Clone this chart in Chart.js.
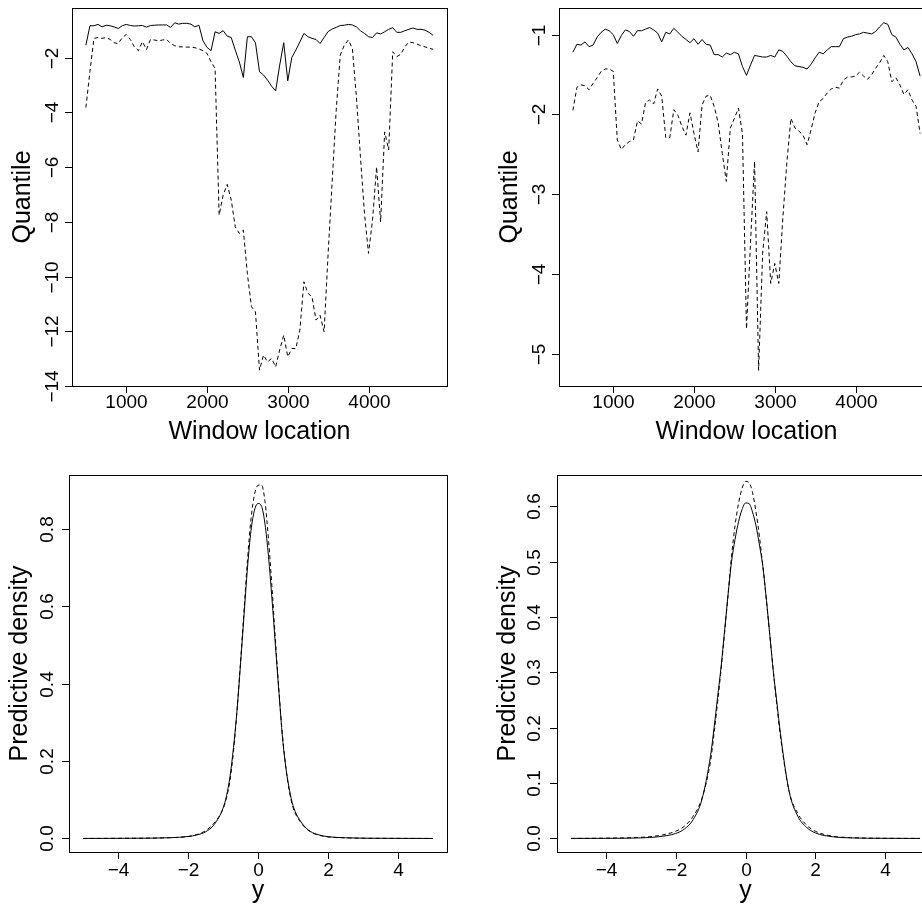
<!DOCTYPE html>
<html>
<head>
<meta charset="utf-8">
<script src="https://cdn.jsdelivr.net/npm/chart.js@4.4.0/dist/chart.umd.min.js"></script>
<style>
  html, body { margin: 0; padding: 0; background: #fff; overflow: hidden; }
  #wrap { position: relative; width: 922px; height: 905px; overflow: hidden; }
  canvas { position: absolute; }
</style>
</head>
<body>
<div id="wrap">
  <canvas id="c1"></canvas>
  <canvas id="c2"></canvas>
  <canvas id="c3"></canvas>
  <canvas id="c4"></canvas>
</div>
<script>
// window locations (x of the two top panels)
const windowLoc = [
  500, 550, 600, 650, 700, 750, 800, 850, 900, 950,
  1000, 1050, 1100, 1150, 1200, 1250, 1300, 1350, 1400, 1450,
  1500, 1550, 1600, 1650, 1700, 1750, 1800, 1850, 1900, 1950,
  2000, 2050, 2100, 2150, 2200, 2250, 2300, 2350, 2400, 2450,
  2500, 2550, 2600, 2650, 2700, 2750, 2800, 2850, 2900, 2950,
  3000, 3050, 3100, 3150, 3200, 3250, 3300, 3350, 3400, 3450,
  3500, 3550, 3600, 3650, 3700, 3750, 3800, 3850, 3900, 3950,
  4000, 4050, 4100, 4150, 4200, 4250, 4300, 4350, 4400, 4450,
  4500, 4550, 4600, 4650, 4700, 4750, 4800
];

// top left panel
const q1Solid = [
  -1.54, -0.83, -0.83, -0.78, -0.87, -0.81, -0.83, -0.87, -0.93, -0.83,
  -0.78, -0.82, -0.84, -0.83, -0.82, -0.88, -0.82, -0.81, -0.80, -0.80,
  -0.80, -0.89, -0.72, -0.77, -0.74, -0.74, -0.77, -0.87, -0.81, -1.38,
  -1.62, -1.74, -1.05, -1.11, -1.01, -1.21, -1.26, -1.72, -2.15, -2.72,
  -1.23, -1.23, -1.45, -2.51, -2.63, -2.82, -3.04, -3.21, -2.27, -1.45,
  -2.84, -1.99, -1.72, -1.42, -1.11, -1.23, -1.29, -1.33, -1.48, -1.26,
  -1.04, -0.95, -0.89, -0.82, -0.81, -0.78, -0.80, -0.87, -1.01, -1.11,
  -1.23, -1.26, -1.09, -1.13, -1.05, -0.96, -0.90, -1.07, -1.07, -1.01,
  -0.96, -0.91, -0.96, -0.96, -0.99, -1.07, -1.18
];
const q1Dashed = [
  -3.82, -2.50, -1.29, -1.26, -1.29, -1.26, -1.33, -1.45, -1.48, -1.27,
  -1.15, -1.33, -1.60, -1.74, -1.41, -1.70, -1.33, -1.35, -1.38, -1.35,
  -1.33, -1.48, -1.56, -1.60, -1.60, -1.61, -1.61, -1.63, -1.68, -1.74,
  -1.84, -2.15, -2.39, -7.75, -7.02, -6.63, -7.20, -8.18, -8.42, -8.30,
  -9.90, -11.10, -11.29, -13.42, -12.87, -13.12, -12.99, -13.30, -12.68, -12.14,
  -12.93, -12.63, -12.63, -11.96, -10.19, -10.61, -10.74, -11.59, -11.41, -12.02,
  -9.15, -6.53, -3.91, -1.90, -1.54, -1.35, -1.66, -3.43, -5.62, -7.69,
  -9.15, -7.93, -5.99, -8.00, -4.71, -5.37, -1.78, -1.96, -1.87, -1.60,
  -1.42, -1.45, -1.50, -1.56, -1.60, -1.65, -1.69
];

// top right panel
const q2Solid = [
  -1.22, -1.12, -1.13, -1.09, -1.15, -1.13, -1.03, -0.97, -0.93, -0.95,
  -1.00, -1.11, -1.01, -0.94, -0.96, -1.02, -0.95, -0.95, -0.93, -0.91,
  -0.94, -0.98, -1.09, -0.97, -0.99, -0.92, -0.97, -1.02, -1.06, -1.10,
  -1.05, -1.12, -1.06, -1.12, -1.13, -1.25, -1.25, -1.28, -1.23, -1.25,
  -1.22, -1.24, -1.40, -1.51, -1.38, -1.26, -1.27, -1.28, -1.28, -1.26,
  -1.28, -1.19, -1.21, -1.27, -1.34, -1.39, -1.40, -1.41, -1.43, -1.37,
  -1.29, -1.22, -1.24, -1.19, -1.15, -1.15, -1.15, -1.05, -1.03, -1.02,
  -1.00, -0.99, -0.97, -0.98, -0.99, -0.96, -0.90, -0.85, -0.87, -1.00,
  -1.03, -1.12, -1.19, -1.16, -1.24, -1.34, -1.52
];
const q2Dashed = [
  -1.95, -1.66, -1.63, -1.64, -1.69, -1.61, -1.54, -1.46, -1.43, -1.43,
  -1.46, -2.32, -2.44, -2.38, -2.34, -2.32, -2.08, -2.12, -1.85, -1.82,
  -1.87, -1.68, -1.77, -2.29, -2.29, -1.94, -2.01, -2.15, -2.26, -1.98,
  -2.24, -2.47, -1.88, -1.77, -1.76, -1.90, -2.11, -2.49, -2.84, -2.17,
  -2.05, -1.92, -2.24, -4.69, -3.60, -2.59, -5.21, -3.74, -3.22, -4.12,
  -3.87, -4.12, -3.30, -2.60, -2.05, -2.17, -2.21, -2.26, -2.38, -2.19,
  -1.98, -1.84, -1.80, -1.73, -1.68, -1.66, -1.67, -1.57, -1.53, -1.53,
  -1.52, -1.47, -1.52, -1.56, -1.50, -1.42, -1.35, -1.26, -1.34, -1.59,
  -1.54, -1.63, -1.75, -1.69, -1.82, -1.90, -2.24
];

// predictive densities (bottom panels)
const yGrid = [
  -5, -4, -3, -2.5, -2, -1.75, -1.5, -1.25, -1, -0.9,
  -0.8, -0.7, -0.6, -0.5, -0.4, -0.3, -0.2, -0.1, 0, 0.1,
  0.2, 0.3, 0.4, 0.5, 0.6, 0.7, 0.8, 0.9, 1, 1.25,
  1.5, 1.75, 2, 2.5, 3, 4, 5
];
const dens1Solid = [
  0, 0.0003, 0.0008, 0.002, 0.005, 0.009, 0.017, 0.036, 0.078, 0.11,
  0.16, 0.235, 0.33, 0.45, 0.575, 0.70, 0.795, 0.848, 0.865, 0.858,
  0.812, 0.728, 0.618, 0.495, 0.375, 0.26, 0.18, 0.125, 0.085, 0.04,
  0.018, 0.009, 0.0045, 0.0018, 0.0007, 0.0002, 0
];
const dens1Dashed = [
  0, 0.0003, 0.001, 0.002, 0.005, 0.01, 0.02, 0.04, 0.076, 0.105,
  0.15, 0.225, 0.33, 0.455, 0.588, 0.72, 0.825, 0.888, 0.912, 0.913,
  0.87, 0.772, 0.648, 0.51, 0.38, 0.265, 0.18, 0.12, 0.08, 0.038,
  0.017, 0.008, 0.004, 0.0015, 0.0006, 0.0002, 0
];
const dens2Solid = [
  0, 0.0002, 0.001, 0.003, 0.009, 0.017, 0.034, 0.07, 0.15, 0.20,
  0.255, 0.31, 0.375, 0.44, 0.50, 0.54, 0.572, 0.594, 0.606, 0.605,
  0.59, 0.565, 0.53, 0.49, 0.43, 0.365, 0.30, 0.245, 0.19, 0.085,
  0.04, 0.02, 0.01, 0.003, 0.001, 0.0002, 0
];
const dens2Dashed = [
  0, 0.0005, 0.002, 0.005, 0.013, 0.022, 0.04, 0.072, 0.14, 0.19,
  0.245, 0.305, 0.37, 0.44, 0.51, 0.565, 0.605, 0.632, 0.645, 0.643,
  0.625, 0.59, 0.545, 0.49, 0.43, 0.365, 0.30, 0.24, 0.185, 0.085,
  0.045, 0.024, 0.013, 0.004, 0.0015, 0.0003, 0
];

// tick values
const locTicks = [1000, 2000, 3000, 4000];
const q1Ticks = [-14, -12, -10, -8, -6, -4, -2];
const q2Ticks = [-5, -4, -3, -2, -1];
const yTicks = [-4, -2, 0, 2, 4];
const dens1Ticks = [0, 0.2, 0.4, 0.6, 0.8];
const dens2Ticks = [0, 0.1, 0.2, 0.3, 0.4, 0.5, 0.6];

const FONT = '"Liberation Sans", Arial, Helvetica, sans-serif';
const minus = (v) => String(v).replace('-', '\u2212');
const oneDec = (v) => v.toFixed(1);

const panels = [
  {
    id: 'c1', left: 0, top: 0, width: 461, height: 452,
    pad: { left: 72, top: 8, right: 14, bottom: 66 },
    xs: windowLoc, solid: q1Solid, dashed: q1Dashed, smooth: false,
    xMin: 328, xMax: 4972, yMin: -14, yMax: -0.18,
    xTicks: locTicks, yTicks: q1Ticks, xFmt: String, yFmt: minus,
    xTitle: 'Window location', yTitle: 'Quantile',
    xLabOff: 21.5, xTitleOff: 53, yLabOff: 14, yTitleOff: 42,
  },
  {
    id: 'c2', left: 461, top: 0, width: 480, height: 452,
    pad: { left: 98, top: 8, right: 7, bottom: 66 },
    xs: windowLoc, solid: q2Solid, dashed: q2Dashed, smooth: false,
    xMin: 328, xMax: 4972, yMin: -5.407, yMax: -0.665,
    xTicks: locTicks, yTicks: q2Ticks, xFmt: String, yFmt: minus,
    xTitle: 'Window location', yTitle: 'Quantile',
    xLabOff: 21.5, xTitleOff: 53, yLabOff: 14, yTitleOff: 42,
  },
  {
    id: 'c3', left: 0, top: 452, width: 461, height: 453,
    pad: { left: 69, top: 23, right: 14, bottom: 53 },
    xs: yGrid, solid: dens1Solid, dashed: dens1Dashed, smooth: true,
    xMin: -5.4, xMax: 5.4, yMin: -0.035, yMax: 0.9386,
    xTicks: yTicks, yTicks: dens1Ticks, xFmt: minus, yFmt: oneDec,
    xTitle: 'y', yTitle: 'Predictive density',
    xLabOff: 24, xTitleOff: 46, yLabOff: 16, yTitleOff: 42,
  },
  {
    id: 'c4', left: 461, top: 452, width: 480, height: 453,
    pad: { left: 96, top: 23, right: 7, bottom: 53 },
    xs: yGrid, solid: dens2Solid, dashed: dens2Dashed, smooth: true,
    xMin: -5.4, xMax: 5.4, yMin: -0.0245, yMax: 0.6565,
    xTicks: yTicks, yTicks: dens2Ticks, xFmt: minus, yFmt: oneDec,
    xTitle: 'y', yTitle: 'Predictive density',
    xLabOff: 24, xTitleOff: 46, yLabOff: 17, yTitleOff: 42,
  },
];

// R style box, ticks and labels drawn from the chart's scales
const makeAxes = (p) => ({
  id: 'rAxes',
  afterDraw(chart) {
    const { ctx, chartArea: a } = chart;
    const xs = chart.scales.x;
    const ys = chart.scales.y;
    ctx.save();
    ctx.strokeStyle = '#000';
    ctx.fillStyle = '#000';
    ctx.lineWidth = 1;
    ctx.strokeRect(a.left + 0.5, a.top + 0.5, a.right - a.left, a.bottom - a.top);

    ctx.font = '19px ' + FONT;
    ctx.textAlign = 'center';
    ctx.textBaseline = 'alphabetic';
    p.xTicks.forEach((v) => {
      const px = Math.round(xs.getPixelForValue(v)) + 0.5;
      ctx.beginPath();
      ctx.moveTo(px, a.bottom);
      ctx.lineTo(px, a.bottom + 7);
      ctx.stroke();
      ctx.fillText(p.xFmt(v), px, a.bottom + p.xLabOff);
    });
    p.yTicks.forEach((v) => {
      const py = Math.round(ys.getPixelForValue(v)) + 0.5;
      ctx.beginPath();
      ctx.moveTo(a.left - 7, py);
      ctx.lineTo(a.left, py);
      ctx.stroke();
      ctx.save();
      ctx.translate(a.left - p.yLabOff, py);
      ctx.rotate(-Math.PI / 2);
      ctx.fillText(p.yFmt(v), 0, 0);
      ctx.restore();
    });

    ctx.font = '25px ' + FONT;
    ctx.fillText(p.xTitle, (a.left + a.right) / 2, a.bottom + p.xTitleOff);
    ctx.save();
    ctx.translate(a.left - p.yTitleOff, (a.top + a.bottom) / 2);
    ctx.rotate(-Math.PI / 2);
    ctx.fillText(p.yTitle, 0, 0);
    ctx.restore();
    ctx.restore();
  },
});

const lineSet = (xs, ys, dashed, smooth) => ({
  data: xs.map((x, i) => ({ x: x, y: ys[i] })),
  borderColor: '#000',
  borderWidth: 1,
  borderDash: dashed ? [4, 3] : [],
  pointRadius: 0,
  fill: false,
  tension: 0,
  cubicInterpolationMode: smooth ? 'monotone' : 'default',
});

panels.forEach((p) => {
  const canvas = document.getElementById(p.id);
  canvas.width = p.width;
  canvas.height = p.height;
  canvas.style.left = p.left + 'px';
  canvas.style.top = p.top + 'px';
  canvas.style.width = p.width + 'px';
  canvas.style.height = p.height + 'px';

  new Chart(canvas.getContext('2d'), {
    type: 'line',
    data: {
      datasets: [
        lineSet(p.xs, p.dashed, true, p.smooth),
        lineSet(p.xs, p.solid, false, p.smooth),
      ],
    },
    options: {
      responsive: false,
      animation: false,
      devicePixelRatio: 1,
      layout: { padding: p.pad },
      plugins: { legend: { display: false }, tooltip: { enabled: false } },
      scales: {
        x: { type: 'linear', min: p.xMin, max: p.xMax, display: false },
        y: { type: 'linear', min: p.yMin, max: p.yMax, display: false },
      },
    },
    plugins: [makeAxes(p)],
  });
});
</script>
</body>
</html>
